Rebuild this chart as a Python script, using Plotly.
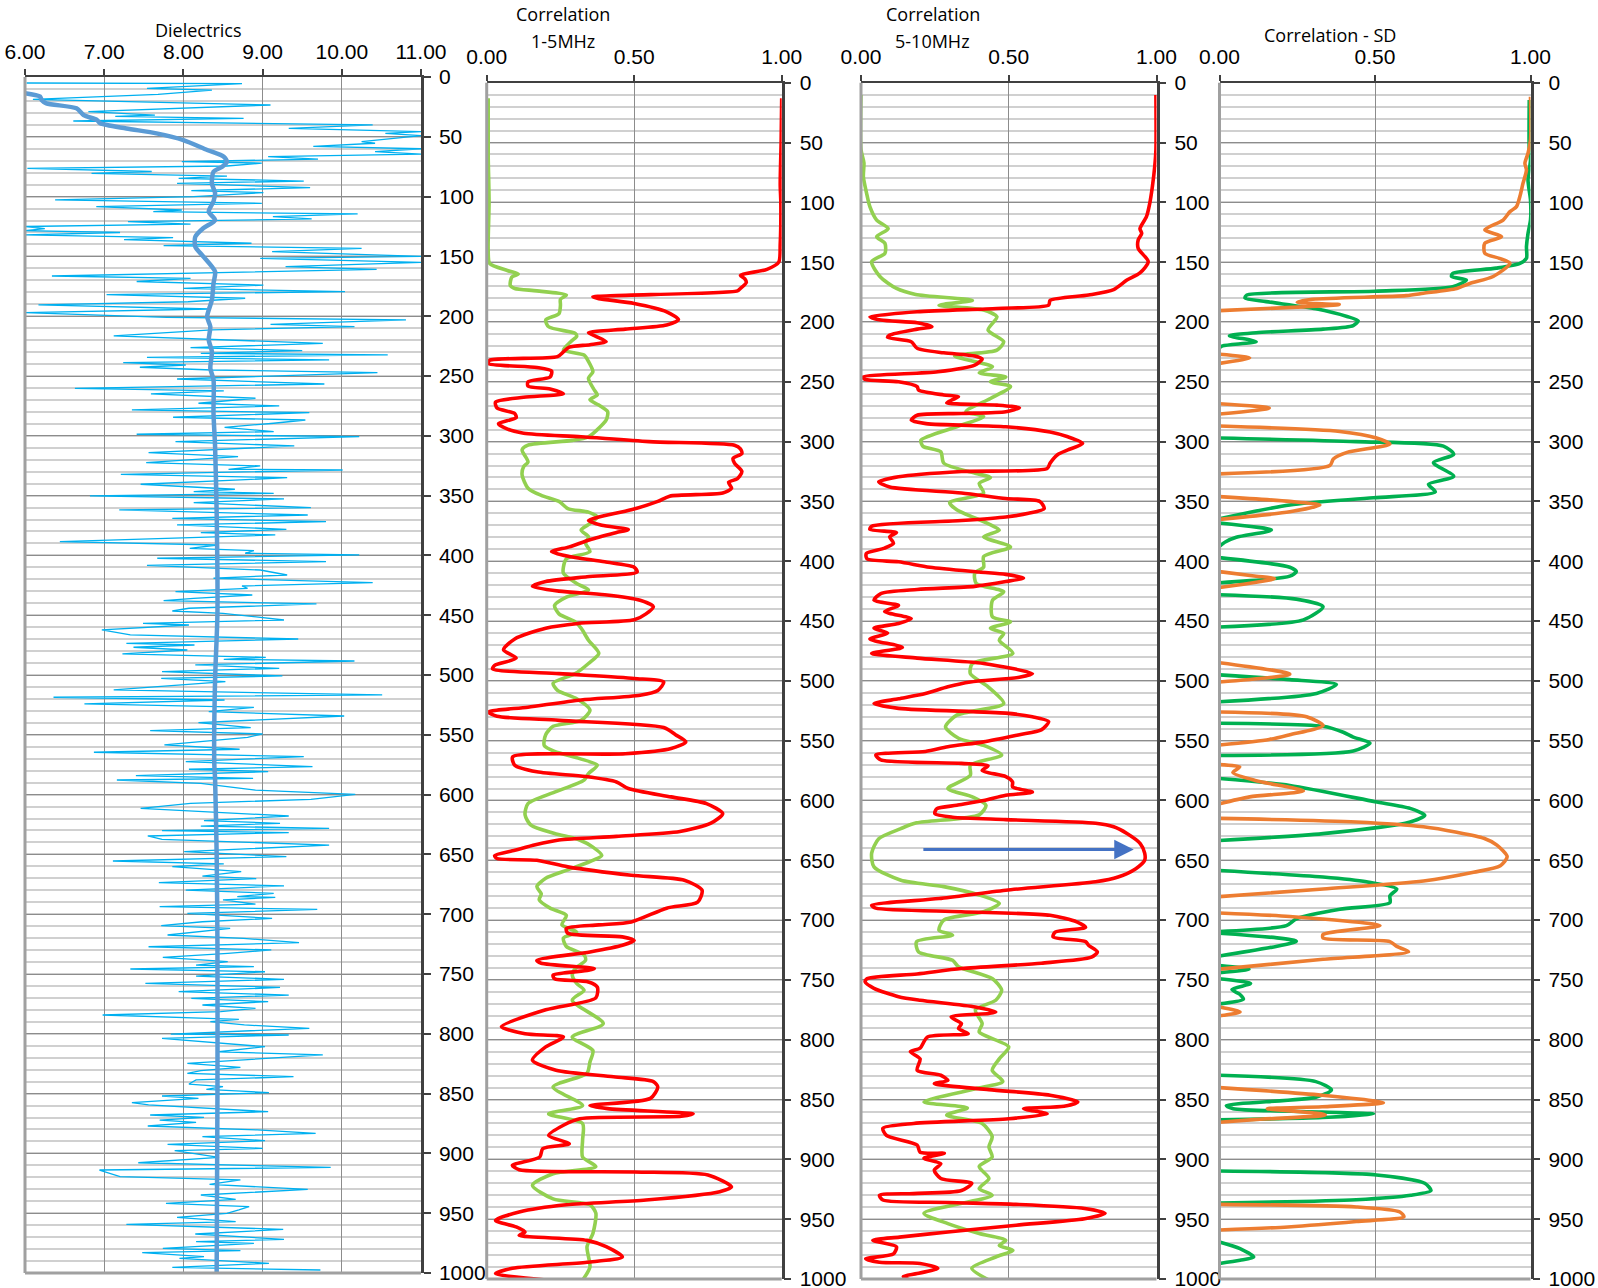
import plotly.graph_objects as go

W, H = 1598, 1288

# ---------------- DATA (depth, value) ----------------
diel_raw = [
(5.0,6.02),(5.6,8.74),(9.5,7.54),(10.9,8.36),(14.5,7.68),(18.7,6.10),(23.4,9.10),(29.0,6.80),(31.8,7.64),(33.0,7.14),
(34.6,8.76),(36.8,6.61),(40.0,10.39),(43.0,9.33),(45.7,11.0),(47.2,10.55),(49.0,11.0),(54.0,10.25),(55.4,10.42),(58.0,9.64),
(60.0,11.0),(62.4,10.42),(64.5,11.0),(66.6,9.07),(68.6,9.70),(70.8,7.98),(72.0,8.99),(74.4,8.55),(76.4,6.03),(79.0,7.60),
(80.5,6.84),(82.8,8.55),(84.7,7.94),(87.0,9.52),(89.0,7.92),(92.5,9.60),(95.0,8.10),(96.7,9.01),(100.0,8.13),(102.8,6.38),
(105.6,8.99),(108.4,6.90),(111.2,7.98),(112.6,7.62),(114.5,10.20),(116.8,9.13),(118.7,9.62),(121.0,7.30),(123.0,8.09),(125.0,6.0),
(126.8,6.25),(128.5,6.0),(130.0,7.20),(132.0,6.0),(134.3,7.87),(136.0,7.25),(139.0,8.86),(141.0,7.75),(143.3,10.25),(146.0,9.12),
(150.0,11.0),(151.6,8.97),(155.0,11.0),(158.6,9.29),(160.8,10.44),(164.0,8.06),(166.4,6.34),(168.4,8.09),(171.0,7.41),(174.0,9.01),
(176.8,8.00),(179.4,10.04),(182.0,7.03),(185.0,8.78),(187.9,8.06),(190.6,6.17),(194.0,8.34),(197.0,6.0),
(200.9,7.79),(203.1,10.81),(206.8,9.10),(208.7,10.16),(211.5,8.36),(216.5,7.12),(219.3,8.38),(222.7,9.76),(226.3,8.09),(228.8,9.50),
(231.0,8.22),(232.4,10.58),(234.4,7.54),(236.6,9.84),(238.8,7.24),(240.8,8.03),(242.7,7.45),(245.0,8.36),(247.2,10.45),(252.5,7.92),
(256.7,9.78),(260.3,6.63),(262.5,8.51),(265.0,7.59),(268.6,8.91),(272.8,8.19),(275.0,9.21),(278.4,7.35),(280.6,9.59),(284.5,7.87),
(286.8,9.54),(289.5,9.14),(292.9,8.52),(296.5,9.14),(298.7,7.41),(300.7,10.22),(304.9,7.90),(308.5,9.40),(314.1,7.56),(317.4,8.69),
(322.4,7.53),(325.2,8.97),(328.0,8.57),(328.6,10.01),(332.2,7.21),(335.0,9.31),(336.9,8.72),(340.5,7.46),(344.7,8.65),(346.7,8.13),
(348.1,9.14),(350.3,6.82),(352.8,9.27),(355.9,8.13),(360.1,9.61),(362.0,7.19),(366.2,9.57),(369.0,7.86),(371.8,9.80),(374.5,7.92),
(378.2,9.30),(381.0,8.22),(382.9,9.16),(388.5,6.44),(391.3,8.43),(394.1,8.08),(396.0,8.89),(398.2,8.78),(399.6,10.22),(402.4,7.67),
(405.2,9.80),(408.3,7.54),(412.2,8.97),(416.4,9.31),(419.1,8.38),(422.8,10.39),(425.6,8.74),(427.5,8.81),(430.3,7.90),(433.1,8.87),
(435.9,8.13),(437.8,7.75),(440.6,9.68),(444.2,8.07),(446.5,7.86),(448.4,8.50),(454.0,9.27),(456.8,7.49),(458.2,8.07),(462.3,6.97),
(466.5,7.33),(469.9,9.45),(473.5,7.28),(474.9,8.14),(476.8,7.37),(479.1,8.05),(482.4,7.23),(485.2,9.04),(486.9,8.51),(488.3,10.16),
(491.6,8.15),(494.4,9.21),(497.2,7.73),(500.8,9.25),(502.8,7.72),(505.5,8.53),(512.5,7.12),(516.7,10.51),(518.6,6.36),(520.9,8.52),
(524.2,6.75),(527.0,8.89),(530.6,8.32),(534.3,10.03),(539.8,8.19),(544.0,8.85),(546.5,7.58),(549.3,9.00),(552.1,8.81),(558.5,7.76),
(562.1,8.71),(564.6,6.87),(568.2,9.52),(572.4,8.03),(576.6,9.63),(578.8,8.07),(580.8,9.07),(584.1,7.40),(586.4,8.88),
(587.8,7.16),(590.6,8.22),(596.2,8.91),(599.8,10.17),(604.0,9.61),(607.3,8.09),(611.5,7.46),(617.9,9.33),(621.8,8.26),(624.0,9.22),
(626.3,8.22),(628.2,9.84),(630.2,7.73),(631.8,9.33),(634.6,7.55),(637.4,7.73),(642.2,9.84),(647.7,8.01),(651.9,9.30),(655.5,7.11),
(658.0,8.51),(660.3,7.86),(664.4,8.73),(668.1,8.24),(670.3,8.92),(673.6,7.69),(676.4,9.27),(679.8,8.03),(682.6,9.14),(685.3,8.68),
(685.9,9.16),(688.1,8.50),(691.5,8.91),(693.7,7.70),(696.0,9.69),(699.3,8.05),(703.5,9.12),(706.3,8.24),(709.6,7.72),(711.8,8.59),
(717.4,7.80),(720.2,8.76),(723.8,9.46),(727.2,7.56),(729.9,9.11),(732.7,8.56),(736.1,7.74),(739.7,8.56),(742.5,8.16),(743.9,8.89),
(745.8,7.33),(748.1,9.03),(751.7,8.16),(754.5,9.27),(757.8,7.52),(761.2,9.22),(764.8,7.94),(767.6,9.33),(770.4,8.10),(773.1,9.07),
(775.9,8.24),(778.7,8.91),(781.5,8.47),(784.3,6.98),(787.9,8.70),(789.9,8.34),(792.6,8.77),(795.4,9.59),(800.2,7.84),(801.0,9.33),
(803.8,7.73),(810.8,9.03),(815.0,8.45),(817.7,9.76),(821.9,8.70),(824.7,8.05),(828.0,8.72),(830.8,8.22),(833.1,8.05),(835.8,9.39),
(838.6,8.16),(842.0,8.07),(844.2,8.50),(846.4,8.29),(849.2,9.08),(852.0,7.73),(854.0,8.19),(857.6,7.35),(859.5,7.56),(865.1,9.07),
(867.9,7.58),(869.9,8.26),(872.1,7.70),(874.0,8.16),(877.1,7.55),(880.4,8.93),(883.2,9.67),(886.0,8.24),(889.4,9.03),(892.4,7.80),
(895.8,9.00),(897.7,7.89),(903.3,8.45),(907.8,7.43),(911.7,9.86),(913.9,6.94),(919.5,7.20),(922.2,8.72),(925.9,8.33),(930.1,9.57),
(934.8,8.22),(938.4,8.66),(941.8,7.78),(944.5,8.83),(947.3,8.70),(950.1,8.55),(953.5,7.92),(957.1,8.66),(959.3,7.28),(963.5,9.26),
(967.4,8.15),(971.9,9.27),(973.8,8.16),(975.2,8.89),(979.4,7.74),(981.3,8.72),(983.0,7.48),(986.3,8.26),(987.7,7.95),(991.9,9.08),
(995.3,7.86),(997.5,9.73)]

diel_smooth = [
(13.6,6.0),(16.4,6.19),(19.2,6.21),(22,6.27),(26.2,6.65),(31.8,6.74),(36,6.91),(38.7,6.95),(43,7.28),(47.1,7.66),
(52.7,8.0),(61,8.30),(66.6,8.51),(70.8,8.55),(75,8.49),(79.2,8.38),(89,8.36),(97,8.40),(104,8.38),(112.6,8.32),
(119.6,8.40),(126.5,8.25),(133.6,8.15),(141.9,8.15),(150,8.25),(162.8,8.40),(172.5,8.38),(186.4,8.36),(200.4,8.30),
(208.7,8.34),(219.9,8.32),(229.6,8.36),(243.6,8.34),(253,8.38),(281,8.38),(309,8.40),(364.8,8.42),(448,8.43),
(504,8.40),(574,8.39),(587,8.40),(650,8.42),(727,8.43),(850,8.43),(1000,8.42)]

red_1_5 = [
(13,1.0),(50,0.998),(85,0.995),(100,0.997),(135,0.995),(150,0.99),(156,0.95),(161,0.86),(164,0.875),(167,0.88),
(172,0.86),(174,0.85),(179,0.36),(180.5,0.38),(184.5,0.50),(191.5,0.61),(198,0.65),(202.6,0.61),(206,0.47),(209,0.345),
(212,0.37),(216.5,0.405),(219,0.35),(221,0.28),(225,0.26),(229,0.24),(232,0.01),(234.7,0.005),(238,0.17),(241,0.22),
(246,0.215),(250,0.14),(253.6,0.14),(256,0.215),(260,0.26),(263,0.125),(267,0.03),(272,0.035),(276.5,0.095),(280,0.10),
(285,0.04),(289,0.065),(293,0.125),(296,0.32),(300,0.55),(303,0.84),(306,0.86),(310,0.865),(314,0.835),(318,0.84),
(325,0.865),(331,0.85),(334,0.82),(339,0.83),(343,0.80),(345.6,0.62),(350,0.58),(357,0.49),(363,0.38),(366,0.345),
(370,0.39),(373.5,0.48),(376,0.44),(382,0.35),(388,0.28),(392,0.22),(396,0.28),(400.5,0.40),(405,0.50),(409,0.51),
(413,0.34),(417,0.20),(421,0.155),(425,0.245),(428,0.40),(432.6,0.52),(438,0.565),(444,0.54),(449,0.50),(452,0.31),
(456,0.20),(465,0.095),(474,0.057),(481,0.10),(487,0.027),(490,0.02),(494,0.245),(498,0.50),(501,0.60),(508,0.58),
(512,0.52),(516,0.32),(522,0.14),(526,0.005),(529.5,0.035),(533,0.245),(539,0.60),(545,0.64),(551,0.675),(556.6,0.625),
(561,0.47),(563.5,0.088),(570.5,0.095),(576,0.17),(580,0.335),(584.5,0.44),(590,0.48),(597,0.625),(602.6,0.745),(611,0.80),
(619,0.76),(626,0.655),(630,0.44),(633,0.245),(637,0.165),(641.6,0.095),(646,0.027),(648.5,0.035),(650,0.17),(655.5,0.275),
(662.5,0.49),(666.7,0.67),(675,0.73),(685,0.715),(690,0.61),(701.5,0.49),(704,0.38),(707,0.27),(711,0.275),(714,0.46),
(717,0.50),(721,0.46),(726.6,0.35),(733.6,0.17),(736,0.185),(740.5,0.365),(742,0.345),(746,0.225),(749,0.23),(751.7,0.345),
(756,0.375),(765,0.37),(775,0.20),(789,0.05),(795,0.13),(797.7,0.26),(806,0.20),(817,0.155),(825.5,0.235),(831,0.43),
(835,0.565),(839.5,0.58),(849,0.555),(855,0.35),(857.6,0.41),(862,0.70),(864,0.66),(866,0.315),(871.5,0.26),(880,0.21),
(887,0.28),(891,0.19),(898,0.18),(905,0.087),(908.6,0.11),(910.5,0.50),(913,0.75),(923,0.83),(927,0.79),(934,0.54),
(938,0.27),(944,0.11),(951,0.03),(956.5,0.10),(960.7,0.13),(963.5,0.11),(967.7,0.34),(973,0.405),(981.6,0.46),(986,0.34),
(991,0.087),(995.5,0.03),(1001,0.21)]

green_1_5 = [
(13,0.005),(60,0.005),(100,0.008),(140,0.005),(151,0.01),(157,0.07),(160,0.107),(162.5,0.085),(169.6,0.08),(172,0.095),
(174,0.17),(177.5,0.27),(181,0.25),(186,0.25),(193,0.245),(198.4,0.20),(204,0.21),(209.6,0.30),(212,0.305),(216.5,0.285),
(223.5,0.26),(227.7,0.33),(233,0.345),(241.6,0.36),(247,0.345),(257,0.365),(261,0.375),(265,0.35),(269.5,0.38),(275,0.41),
(282,0.405),(290,0.375),(296,0.345),(299,0.29),(303,0.14),(307,0.12),(317,0.14),(321,0.125),(328,0.12),(339,0.14),
(345,0.185),(350,0.245),(356,0.275),(359,0.345),(363,0.375),(368.5,0.35),(374,0.32),(379.6,0.345),(385,0.335),(392,0.35),
(398,0.27),(405,0.26),(410,0.26),(418.6,0.305),(424,0.345),(430,0.27),(437,0.23),(444,0.245),(450.7,0.30),(456,0.32),
(466,0.345),(477,0.38),(485.5,0.345),(494,0.30),(502,0.225),(508,0.24),(515,0.305),(524.5,0.35),(533,0.32),(538,0.225),
(545,0.20),(554,0.195),(559,0.23),(565,0.315),(570.5,0.375),(577.5,0.345),(583,0.33),(593,0.23),(602.6,0.14),(612,0.13),
(620.7,0.15),(627.6,0.23),(633,0.315),(639,0.36),(646,0.39),(651,0.35),(658,0.275),(665,0.20),(672,0.17),(678,0.185),
(683,0.178),(690,0.215),(696,0.27),(704,0.255),(710,0.305),(715,0.26),(722,0.27),(729,0.33),(733.6,0.335),(740.5,0.30),
(746,0.29),(753,0.305),(758.6,0.33),(767,0.29),(786.5,0.395),(797.7,0.29),(809,0.36),(818.6,0.35),(828,0.34),(839.5,0.225),
(855,0.325),(862,0.21),(870,0.325),(884,0.325),(898,0.325),(906,0.37),(912,0.225),(921.7,0.155),(933,0.225),(938,0.35),
(945,0.37),(962,0.36),(973,0.34),(990,0.35),(1001,0.325)]

red_5_10 = [
(10.3,0.998),(56,0.998),(70,0.994),(87,0.986),(101,0.977),(112,0.966),(122,0.944),(126,0.95),(131.5,0.938),(138.5,0.938),
(149.6,0.972),(159,0.944),(165,0.90),(173,0.855),(177.5,0.77),(182,0.64),(186,0.635),(188.7,0.46),(191.5,0.19),(195.7,0.03),
(198.4,0.067),(200.7,0.19),(204,0.24),(206,0.19),(211,0.097),(213,0.09),(216.5,0.17),(222,0.19),(225.8,0.28),(228.5,0.385),
(231,0.41),(236,0.385),(241.6,0.26),(246,0.006),(248,0.014),(250,0.127),(254,0.19),(257,0.195),(261,0.28),(262.5,0.33),
(265,0.31),(267.6,0.29),(269.5,0.46),(271.7,0.536),(275,0.49),(276.5,0.34),(278,0.19),(282,0.17),(285,0.22),(287.6,0.49),
(292,0.64),(296,0.70),(301.5,0.75),(307,0.70),(311,0.665),(318,0.64),(322.5,0.63),(325,0.34),(329.4,0.127),(333.6,0.06),
(338,0.097),(343,0.34),(347.6,0.49),(350,0.605),(356,0.62),(360,0.567),(363,0.49),(366,0.34),(370.7,0.036),(373.5,0.03),
(376,0.12),(379.6,0.097),(385,0.11),(389,0.08),(393.5,0.018),(398,0.02),(400.5,0.127),(405,0.233),(409,0.40),(411,0.49),
(414,0.55),(417,0.49),(421,0.385),(423.6,0.19),(427,0.067),(432.6,0.044),(437,0.127),(442,0.08),(448,0.17),(452,0.127),
(456,0.044),(460,0.09),(465,0.03),(472,0.14),(477,0.036),(481,0.19),(485.5,0.415),(494,0.58),(497,0.536),(501,0.37),
(505,0.294),(510.6,0.218),(515,0.127),(519,0.044),(523,0.127),(527,0.49),(530,0.58),(534,0.635),(541,0.61),(545,0.536),
(551,0.415),(555,0.294),(559,0.218),(562,0.05),(566,0.067),(569,0.34),(571,0.43),(575,0.41),(580,0.49),(584.5,0.513),
(588.6,0.513),(593,0.58),(595.6,0.49),(600,0.415),(604,0.324),(607,0.256),(611,0.25),(614,0.31),(616,0.49),(619,0.794),
(622,0.855),(627.6,0.90),(636,0.945),(644,0.96),(650,0.96),(657,0.93),(664,0.87),(668,0.794),(675,0.49),(682,0.264),
(687.6,0.036),(690,0.05),(693,0.34),(696,0.64),(701.5,0.73),(706,0.76),(710,0.657),(714,0.65),(718,0.76),(721,0.77),
(726.6,0.80),(731,0.78),(736,0.61),(740.5,0.34),(745,0.19),(749,0.02),(751.7,0.014),(757,0.044),(764,0.127),(767,0.20),
(772.6,0.387),(776.8,0.456),(778,0.433),(781,0.305),(786.5,0.34),(790.7,0.33),(795,0.363),(797.7,0.225),(807,0.20),(810,0.167),
(816,0.20),(825.5,0.19),(829.7,0.27),(834,0.294),(836.7,0.248),(841.7,0.433),(846.4,0.64),(852,0.734),(855.6,0.687),(857.6,0.55),
(862,0.63),(866,0.50),(870,0.178),(874,0.074),(880,0.086),(888,0.19),(894,0.20),(895,0.282),(899,0.213),(903.6,0.27),
(909,0.248),(916,0.27),(920,0.375),(926,0.34),(928.6,0.178),(930,0.0625),(934,0.074),(936,0.294),(937.6,0.525),(941,0.757),
(945,0.826),(949.6,0.757),(955,0.525),(960.7,0.294),(965,0.13),(967.7,0.04),(973,0.12),(979,0.11),(983,0.016),(986,0.0625),
(987,0.20),(991,0.26),(995.5,0.19),(998,0.143),(1001,0.167)]

green_5_10 = [
(10.3,0.0),(56,0.0),(67,0.01),(78.6,0.008),(92.5,0.019),(103.6,0.03),(114.8,0.053),(122,0.092),(128.7,0.053),(134.3,0.081),
(142.6,0.081),(149.6,0.036),(162,0.064),(172,0.12),(177,0.185),(182,0.377),(186,0.264),(190,0.415),(195.7,0.46),(206.8,0.43),
(216.5,0.483),(223.5,0.46),(228.5,0.317),(237.5,0.445),(242.5,0.40),(246,0.49),(250,0.438),(254,0.506),(264,0.438),(275,0.355),
(279,0.415),(287.6,0.324),(298.8,0.203),(304,0.21),(308.5,0.27),(318,0.28),(326.7,0.39),(330,0.438),(335,0.40),(343,0.415),
(351,0.30),(357,0.324),(368.5,0.43),(374,0.468),(379.6,0.415),(388,0.506),(396,0.415),(405,0.415),(410,0.385),(418.6,0.39),
(425.6,0.483),(432.6,0.445),(446.5,0.445),(450.7,0.506),(456,0.438),(460.4,0.483),(466,0.468),(477,0.514),(485.5,0.377),(494,0.37),
(505,0.43),(519,0.483),(528.7,0.324),(538.5,0.286),(548,0.33),(554,0.415),(562,0.476),(570.5,0.37),(579,0.37),(590,0.294),
(597,0.377),(604,0.423),(612,0.40),(618.7,0.188),(623.5,0.135),(632,0.06),(644,0.036),(655.5,0.044),(666.7,0.135),(672,0.28),
(679,0.40),(686,0.468),(693,0.415),(700,0.28),(708.5,0.264),(712.6,0.31),(718,0.188),(726.6,0.195),(733.6,0.31),(739,0.33),
(749,0.445),(758.6,0.476),(767,0.456),(775,0.387),(786.5,0.41),(793.5,0.40),(806,0.50),(816,0.468),(825.5,0.444),(835,0.48),
(841,0.387),(852,0.213),(857,0.36),(863,0.29),(870,0.41),(881,0.444),(889.6,0.433),(898,0.444),(906,0.40),(916,0.433),
(924.5,0.40),(930,0.444),(945,0.213),(953.7,0.294),(962,0.40),(967.7,0.49),(972,0.468),(976,0.514),(981.6,0.456),(991,0.375),
(1001,0.433)]

green_sd = [
(14.5,0.996),(56,0.996),(64.6,1.0),(81.3,0.992),(98,1.0),(114.8,1.0),(126,0.992),(137,0.987),(146.8,0.987),(151,0.966),
(155,0.89),(159.4,0.75),(162,0.746),(165,0.794),(170.5,0.75),(174.3,0.50),(177.5,0.088),(180,0.082),(183,0.15),(189,0.31),
(195.4,0.41),(199,0.446),(203,0.43),(206,0.333),(209,0.118),(211.5,0.032),(216.5,0.118),(220,0.01),(221.5,0.0),(250,None),
(297,0.0),(300,0.44),(303.8,0.72),(310.7,0.753),(317.6,0.688),(329,0.753),(335.7,0.672),(342,0.694),(347,0.495),(353,0.226),
(364.5,0.0),(366,None),(368,0.0),(374,0.167),(380,0.054),(383.7,0.02),(387.5,0.0),(390,None),
(397,0.0),(405,0.226),(408.7,0.247),(412.5,0.226),(418,0.0),(420,None),
(428,0.0),(431.7,0.247),(438,0.333),(449,0.27),(455,0.0),(470,None),
(495,0.0),(499,0.226),(503,0.376),(510.5,0.312),(517.5,0.0),(520,None),
(535.5,0.0),(538,0.333),(543,0.398),(547,0.43),(552,0.484),(558.6,0.43),(562.4,0.0),(570,None),
(581.6,0.0),(587.4,0.226),(601,0.50),(606.6,0.613),(612.4,0.66),(618,0.613),(627.7,0.333),(633.5,0.0),(640,None),
(658.5,0.0),(664,0.333),(668,0.473),(674,0.57),(679.6,0.548),(685.4,0.548),(691,0.387),(699,0.247),(704.6,0.215),(709.5,0.0),(710,None),
(711,0.0),(717.6,0.247),(730,0.0),(735,None),
(738,0.0),(741,0.095),(744,0.0),(746,None),
(749,0.0),(753,0.10),(758,0.04),(762,0.065),(766,0.077),(770,0.0),(790,None),
(829.7,0.0),(835,0.31),(842,0.36),(848,0.31),(855,0.022),(857.6,0.044),(860.4,0.33),(862,0.495),(865,0.33),(867,0.0),(880,None),
(909.7,0.0),(913,0.505),(920,0.66),(926,0.68),(930,0.615),(933.7,0.44),(936.5,0.0),(950,None),
(969,0.0),(974.6,0.066),(981.6,0.11),(984.4,0.066),(987,0.0)]

orange_sd = [
(11.7,1.0),(47.9,1.0),(59,0.992),(67.4,0.982),(73,0.987),(84,0.976),(95,0.966),(103.6,0.955),(107.8,0.934),(114.8,0.912),
(123,0.853),(128.7,0.907),(134.3,0.853),(142.6,0.853),(146.8,0.90),(151,0.934),(162,0.88),(167.8,0.805),(172,0.763),(176,0.656),
(178,0.60),(181,0.30),(183.5,0.25),(185.5,0.385),(187.4,0.27),(190.5,0.0),(200,None),
(227,0.0),(230,0.097),(234.6,0.0),(240,None),
(268.4,0.0),(272,0.16),(277,0.0),(280,None),
(287,0.0),(291.5,0.387),(297,0.505),(302,0.548),(309,0.41),(314.5,0.366),(320,0.355),(327,0.0),(330,None),
(346,0.0),(350,0.226),(353,0.323),(358.7,0.226),(365,0.0),(380,None),
(408.7,0.0),(412.5,0.118),(414.5,0.177),(422,0.0),(440,None),
(484.8,0.0),(494.4,0.226),(501,0.0),(510,None),
(526,0.0),(530,0.28),(537.4,0.333),(545,0.226),(549,0.16),(553.6,0.0),(560,None),
(570,0.0),(572,0.065),(576.6,0.043),(583.5,0.118),(592,0.27),(597,0.097),(602.8,0.0),(608,None),
(615,0.0),(618,0.44),(622,0.656),(626.6,0.763),(631.6,0.85),(637.3,0.892),(647,0.925),(654.6,0.903),(660,0.817),(667.3,0.656),
(674,0.333),(680.4,0.0),(688,None),
(694,0.0),(697,0.226),(704.6,0.516),(712,0.333),(715,0.333),(718,0.548),(722,0.57),(726.5,0.608),(732.7,0.333),(741,0.0),(750,None),
(772.6,0.0),(776.8,0.066),(780,0.0),(800,None),
(840,0.0),(846.4,0.33),(852.6,0.527),(856,0.33),(857.6,0.154),(862,0.33),(863,0.34),(866.8,0.11),(869,0.0),(900,None),
(937.6,0.0),(939.8,0.44),(944,0.58),(948,0.593),(952,0.44),(956.5,0.22),(959,0.0)]

arrow_depth = 641
arrow_from = 0.206
arrow_to = 0.923

depth_ticks = list(range(0, 1001, 50))
titles = [["Dielectrics"], ["Correlation", "1-5MHz"], ["Correlation", "5-10MHz"], ["Correlation - SD"]]

# ---------------- LAYOUT helpers ----------------
def px(x):
    return x / W

def py(y):
    return 1 - y / H

panels = [
    dict(x0=25, x1=421, y0=77, y1=1273, rng=[6, 11], dtick=1),
    dict(x0=486.7, x1=781.7, y0=82.7, y1=1279, rng=[0, 1], dtick=0.5),
    dict(x0=861, x1=1156.5, y0=82.7, y1=1279, rng=[0, 1], dtick=0.5),
    dict(x0=1219.5, x1=1530.5, y0=82.7, y1=1279, rng=[0, 1], dtick=0.5),
]

fig = go.Figure()

def add(series, idx, color, width, shape="spline", smoothing=0.7):
    d = [p[0] for p in series]
    v = [p[1] for p in series]
    suffix = "" if idx == 1 else str(idx)
    fig.add_trace(go.Scatter(
        x=v, y=d, mode="lines", xaxis="x" + suffix, yaxis="y" + suffix,
        line=dict(color=color, width=width, shape=shape, smoothing=smoothing if shape == "spline" else None),
        connectgaps=False, showlegend=False, hoverinfo="skip"))

add(diel_raw, 1, "#00B0F0", 1.3, shape="linear")
add(diel_smooth, 1, "#5B9BD5", 4.5)
add(green_1_5, 2, "#92D050", 3.6)
add(red_1_5, 2, "#FF0000", 3.6)
add(green_5_10, 3, "#92D050", 3.6)
add(red_5_10, 3, "#FF0000", 3.6)
add(green_sd, 4, "#00B050", 3.6)
add(orange_sd, 4, "#ED7D31", 3.6)

layout = dict(width=W, height=H, margin=dict(l=0, r=0, t=0, b=0, autoexpand=False),
              paper_bgcolor="white", plot_bgcolor="white", showlegend=False)
shapes = []
annotations = []
tickfont = dict(family="Liberation Sans, Arial, sans-serif", size=21, color="#000000")
for i, p in enumerate(panels, start=1):
    s = "" if i == 1 else str(i)
    layout["xaxis" + s] = dict(
        domain=[px(p["x0"]), px(p["x1"])], range=p["rng"], side="top", anchor="y" + s,
        dtick=p["dtick"], tick0=p["rng"][0], tickformat=".2f", ticks="outside", ticklen=6,
        tickcolor="#404040", tickwidth=1.5, showline=True, linecolor="#404040", linewidth=2,
        showgrid=True, gridcolor="#8C8C8C", gridwidth=1.2, zeroline=False, tickfont=tickfont,
        ticklabelstandoff=2, ticklabeloverflow="allow", automargin=False, fixedrange=True)
    layout["yaxis" + s] = dict(
        domain=[py(p["y1"]), py(p["y0"])], range=[1000, 0], side="right", anchor="x" + s,
        tickmode="array", tickvals=depth_ticks, ticktext=[str(t) for t in depth_ticks],
        ticks="outside", ticklen=7, tickcolor="#404040", tickwidth=1.5,
        showline=True, linecolor="#404040", linewidth=2.5, showgrid=True, gridcolor="#8C8C8C",
        gridwidth=1.2, zeroline=False, tickfont=tickfont, ticklabelstandoff=4,
        ticklabeloverflow="allow",
        minor=dict(dtick=10, tick0=0, showgrid=True, gridcolor="#D0D0D0", gridwidth=2, ticks=""),
        automargin=False, fixedrange=True)
    # left and bottom gray borders
    shapes.append(dict(type="line", xref="x" + s + " domain", yref="y" + s + " domain",
                       x0=0, x1=0, y0=0, y1=1, line=dict(color="#A0A0A0", width=3)))
    shapes.append(dict(type="line", xref="x" + s + " domain", yref="y" + s + " domain",
                       x0=0, x1=1, y0=0, y1=0, line=dict(color="#A0A0A0", width=3)))

title_font = dict(family="Open Sans, sans-serif", size=18, color="#000000")
title_pos = [[(198, 30)], [(563, 14), (563, 41)], [(933, 14), (933, 41)], [(1330, 35)]]
for lines, poss in zip(titles, title_pos):
    for t, (tx, ty) in zip(lines, poss):
        annotations.append(dict(text=t, x=px(tx), y=py(ty), xref="paper", yref="paper",
                                showarrow=False, xanchor="center", yanchor="middle",
                                borderpad=0, font=title_font))

annotations.append(dict(x=arrow_to, y=arrow_depth, ax=arrow_from, ay=arrow_depth,
                        xref="x3", yref="y3", axref="x3", ayref="y3", text="",
                        showarrow=True, arrowhead=2, arrowsize=1.3, arrowwidth=3,
                        arrowcolor="#4472C4"))

layout["shapes"] = shapes
layout["annotations"] = annotations
fig.update_layout(**layout)
fig.write_html("out.html")
